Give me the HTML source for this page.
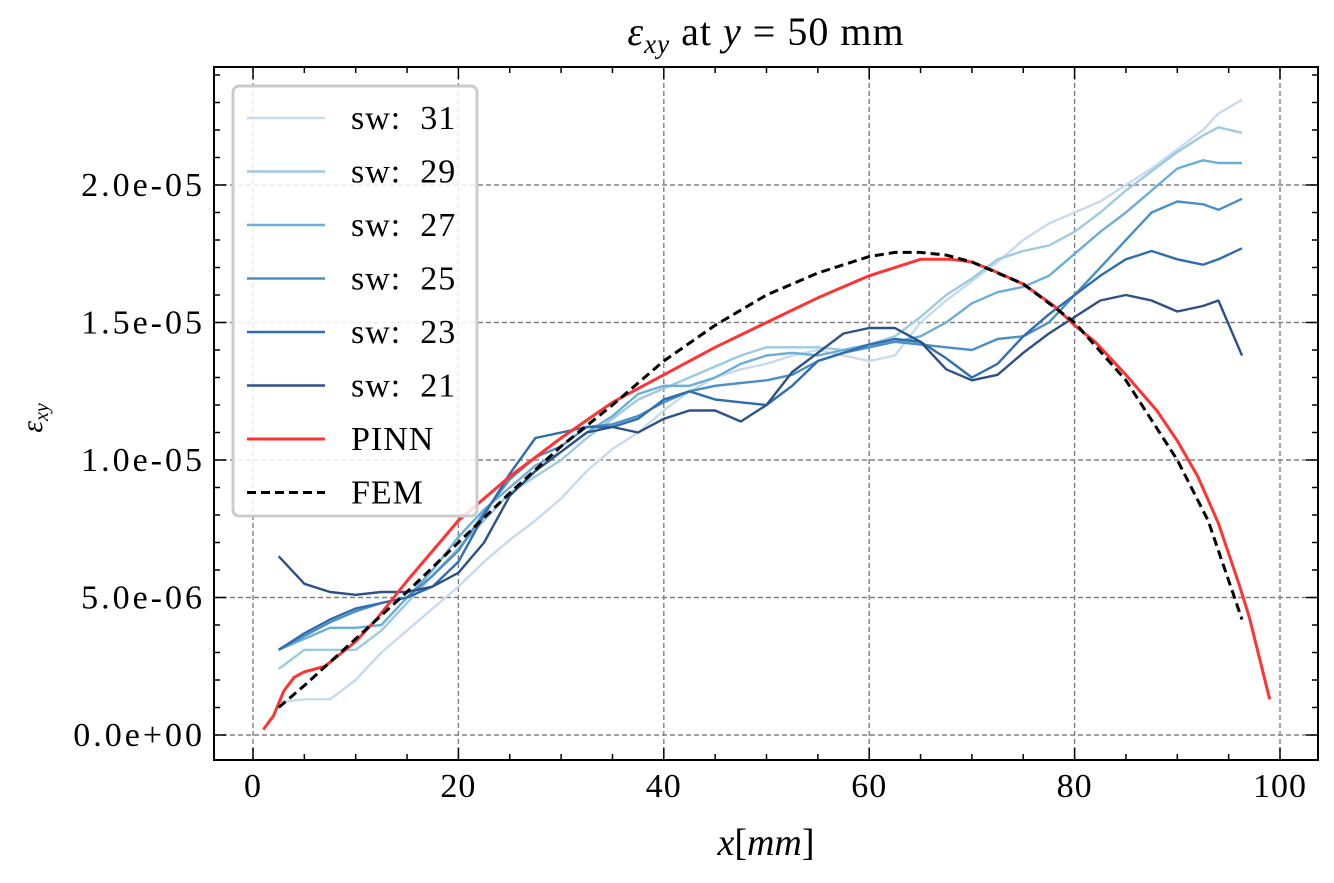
<!DOCTYPE html>
<html><head><meta charset="utf-8"><style>
html,body{margin:0;padding:0;background:#fff}
svg text{font-family:"Liberation Serif","DejaVu Serif",serif;fill:#000}
</style></head><body>
<svg id="chart" width="1334" height="878" viewBox="0 0 1334 878" xmlns="http://www.w3.org/2000/svg">
<rect width="1334" height="878" fill="#fff"/>
<g id="grid"></g><g id="series"></g><g id="axes"></g><g id="legend"></g>
<text x="766" y="45" font-size="40" text-anchor="middle" letter-spacing="1"><tspan font-style="italic">ε</tspan><tspan font-style="italic" font-size="27" dy="8">xy</tspan><tspan dy="-8"> at </tspan><tspan font-style="italic">y</tspan><tspan> = 50 mm</tspan></text>
<text x="766" y="855" font-size="38" text-anchor="middle"><tspan font-style="italic">x</tspan>[<tspan font-style="italic">mm</tspan>]</text>
<text transform="translate(42,418) rotate(-90)" font-size="30" text-anchor="middle"><tspan font-style="italic">ε</tspan><tspan font-style="italic" font-size="20" dy="6">xy</tspan></text>
</svg>
<script>
const NS='http://www.w3.org/2000/svg';
const xTicks=[0,20,40,60,80,100];
const yTicks=[0,5,10,15,20];
const yTickLabels=['0.0e+00','5.0e-06','1.0e-05','1.5e-05','2.0e-05'];
const swX=[2.5,5,7.5,10,12.5,15,17.5,20,22.5,25,27.5,30,32.5,35,37.5,40,42.5,45,47.5,50,52.5,55,57.5,60,62.5,65,67.5,70,72.5,75,77.5,80,82.5,85,87.5,90,92.5,94,96.3];
const sw31=[1.2,1.3,1.3,2.0,3.0,3.8,4.6,5.4,6.3,7.1,7.8,8.6,9.6,10.4,11.0,11.8,12.5,13.0,13.3,13.5,13.8,14.0,13.8,13.6,13.8,15.0,15.8,16.5,17.2,18.0,18.6,19.0,19.4,20.0,20.6,21.3,22.0,22.6,23.1];
const sw29=[2.4,3.1,3.1,3.1,3.8,4.8,5.8,6.8,7.8,8.8,9.4,10.0,10.8,11.5,12.2,12.6,13.0,13.4,13.8,14.1,14.1,14.1,14.0,14.2,14.5,15.2,16.0,16.6,17.3,17.6,17.8,18.3,19.0,19.8,20.5,21.2,21.8,22.1,21.9];
const sw27=[3.1,3.5,3.9,3.9,4.0,5.0,6.0,7.2,8.2,9.0,9.8,10.3,11.0,11.6,12.4,12.7,12.7,13.0,13.5,13.8,13.9,13.8,14.0,14.2,14.3,14.5,15.0,15.7,16.1,16.3,16.7,17.5,18.3,19.0,19.8,20.6,20.9,20.8,20.8];
const sw25=[3.1,3.6,4.1,4.5,4.8,5.0,5.8,6.7,8.1,9.3,10.1,10.5,11.2,11.3,11.6,12.1,12.5,12.7,12.8,12.9,13.1,13.6,13.9,14.1,14.3,14.2,14.1,14.0,14.4,14.5,15.0,16.0,17.0,18.0,19.0,19.4,19.3,19.1,19.5];
const sw23=[3.1,3.7,4.2,4.6,4.8,5.0,5.4,6.3,8.0,9.5,10.8,11.0,11.2,11.2,11.5,12.2,12.5,12.2,12.1,12.0,12.7,13.6,13.9,14.2,14.4,14.3,13.7,13.0,13.5,14.5,15.3,16.0,16.7,17.3,17.6,17.3,17.1,17.3,17.7];
const sw21=[6.5,5.5,5.2,5.1,5.2,5.2,5.4,5.9,7.0,8.7,9.6,10.3,11.0,11.2,11.0,11.5,11.8,11.8,11.4,12.0,13.2,13.9,14.6,14.8,14.8,14.3,13.3,12.9,13.1,13.9,14.6,15.2,15.8,16.0,15.8,15.4,15.6,15.8,13.8];
const pinnX=[1,2,3,4,5,7,10,12,15,20,25,30,35,40,45,50,55,60,65,68,70,72,75,78,80,82,85,88,90,92,94,96,97,99];
const pinnY=[0.2,0.7,1.6,2.1,2.3,2.5,3.4,4.2,5.6,7.8,9.4,10.8,12.1,13.1,14.1,15.0,15.9,16.7,17.3,17.3,17.2,16.9,16.4,15.6,14.9,14.3,13.1,11.8,10.7,9.4,7.7,5.5,4.3,1.3];
const femX=[2.5,5,10,15,20,25,30,35,40,45,50,55,60,62.5,65,67.5,70,75,80,85,90,93,96.3];
const femY=[1.0,1.8,3.5,5.2,7.0,8.8,10.5,12.0,13.6,14.9,16.0,16.8,17.4,17.55,17.55,17.45,17.2,16.4,15.0,12.9,10.0,7.8,4.2];
const L=214,R=1318,T=67,B=760;
const sx=v=>253+v*10.27;
const sy=v=>735-v*27.5;
function el(tag,attrs,parent){const e=document.createElementNS(NS,tag);for(const k in attrs)e.setAttribute(k,attrs[k]);parent.appendChild(e);return e;}
const grid=document.getElementById('grid'),axes=document.getElementById('axes'),ser=document.getElementById('series'),leg=document.getElementById('legend');
xTicks.forEach(t=>{const g=el('line',{x1:sx(t),x2:sx(t),y1:T,y2:B,stroke:'#808080','stroke-width':1.4,'stroke-dasharray':'5,3'},grid);


const tx=el('text',{x:sx(t),y:B+37,'font-size':34,'text-anchor':'middle','letter-spacing':1},axes);tx.textContent=t;

});
yTicks.forEach((t,i)=>{const g=el('line',{x1:L,x2:R,y1:sy(t),y2:sy(t),stroke:'#808080','stroke-width':1.4,'stroke-dasharray':'5,3'},grid);


const tx=el('text',{x:L-9,y:sy(t)+11,'font-size':34,'text-anchor':'end','letter-spacing':3},axes);tx.textContent=yTickLabels[i];

});
for(let v=-5;v<=105;v+=5){const x=sx(v);if(x<L||x>R)continue;const len=v%20===0?12:6;
el('line',{x1:x,x2:x,y1:B,y2:B-len,stroke:'#000','stroke-width':1.5},axes);el('line',{x1:x,x2:x,y1:T,y2:T+len,stroke:'#000','stroke-width':1.5},axes);}
for(let v=-1;v<=25;v+=1){const y=sy(v);if(y<T||y>B)continue;const len=v%5===0?12:6;
el('line',{x1:L,x2:L+len,y1:y,y2:y,stroke:'#000','stroke-width':1.5},axes);el('line',{x1:R,x2:R-len,y1:y,y2:y,stroke:'#000','stroke-width':1.5},axes);}
const frame=el('rect',{x:L,y:T,width:R-L,height:B-T,fill:'none',stroke:'#000','stroke-width':2},axes);


const defs=[['sw: 31',swX,sw31,'#c6dbef',''],['sw: 29',swX,sw29,'#9ecae1',''],['sw: 27',swX,sw27,'#6baed6',''],['sw: 25',swX,sw25,'#4b8fc6',''],['sw: 23',swX,sw23,'#2f6db0',''],['sw: 21',swX,sw21,'#2e5088',''],['PINN',pinnX,pinnY,'#ff3333',''],['FEM',femX,femY,'#000','9,5']];
defs.forEach((d,i)=>{const pts=d[1].map((x,j)=>sx(x).toFixed(1)+','+sy(d[2][j]).toFixed(1)).join(' ');
const p=el('polyline',{points:pts,fill:'none',stroke:d[3],'stroke-width':i>=6?3:2.4,'stroke-linejoin':'round'},ser);
if(d[4])p.setAttribute('stroke-dasharray',d[4]);

});
const box=el('rect',{x:233,y:86,width:244,height:430,rx:6,fill:'#fff','fill-opacity':0.85,stroke:'#ccc','stroke-width':3},leg);


defs.forEach((d,i)=>{const y=118+i*53.5;
const ln=el('line',{x1:247,x2:325,y1:y,y2:y,stroke:d[3],'stroke-width':i>=6?3:2.4},leg);if(d[4])ln.setAttribute('stroke-dasharray',d[4]);
const tx=el('text',{x:351,y:y+11,'font-size':34,'letter-spacing':1},leg);tx.textContent=d[0].replace(': ',':\u00a0 ');

});
</script>
</body></html>
